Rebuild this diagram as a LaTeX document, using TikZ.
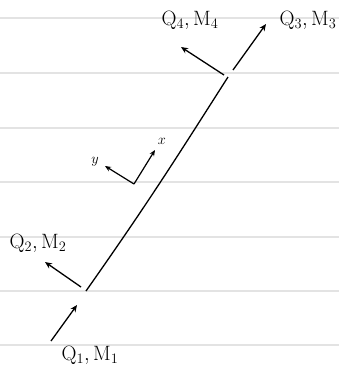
\documentclass[tikz,border=0pt]{standalone}
\usepackage{amsmath,amssymb}
\usepackage{xcolor}
\usepackage{tikz}
\usetikzlibrary{arrows.meta}

\begin{document}
\begin{tikzpicture}[
  x=1pt, y=-1pt,
  every node/.style={font=\fontsize{22}{26}\selectfont, inner sep=0pt},
  rule/.style={draw=gray!22, line width=1.5pt},
  beam/.style={draw=black, line width=1.3pt},
  force/.style={-{Stealth[length=7pt,width=6pt]}, line width=1.3pt},
  axis/.style={-{Stealth[length=6pt,width=5pt]}, line width=1.2pt},
  axlabel/.style={font=\fontsize{15}{18}\selectfont}
]
\useasboundingbox (0,0) rectangle (339,368);
\fill[white] (0,0) rectangle (339,368);
\foreach \y in {18,73,128,182,237,291,345}{
  \draw[rule] (0,\y) -- (339,\y);
}
\coordinate (b1) at (86,291);
\coordinate (b2) at (228,77);
\draw[beam] (b1) .. controls (150,200) and (175,160) .. (b2);
\foreach \name/\sx/\sy/\ex/\ey/\lx/\ly/\txt in {
  q1/51/341/77/305/90/355/{$\mathrm{Q}_1, \mathrm{M}_1$},
  q2/81/287/45/262/38/243/{$\mathrm{Q}_2, \mathrm{M}_2$},
  q3/233/70/266/24/308/20/{$\mathrm{Q}_3, \mathrm{M}_3$},
  q4/224/75/181/47/190/20/{$\mathrm{Q}_4, \mathrm{M}_4$}
}{
  \coordinate (\name s) at (\sx,\sy);
  \coordinate (\name e) at (\ex,\ey);
  \draw[force] (\name s) -- (\name e);
  \node (\name lab) at (\lx,\ly) {\txt};
}
\coordinate (o) at (134,184);
\coordinate (xe) at (155,150);
\coordinate (ye) at (105,166);
\draw[axis] (o) -- (xe);
\draw[axis] (o) -- (ye);
\node[axlabel] (xlab) at (162,141) {$x$};
\node[axlabel] (ylab) at (95,162) {$y$};
\end{tikzpicture}
\end{document}
